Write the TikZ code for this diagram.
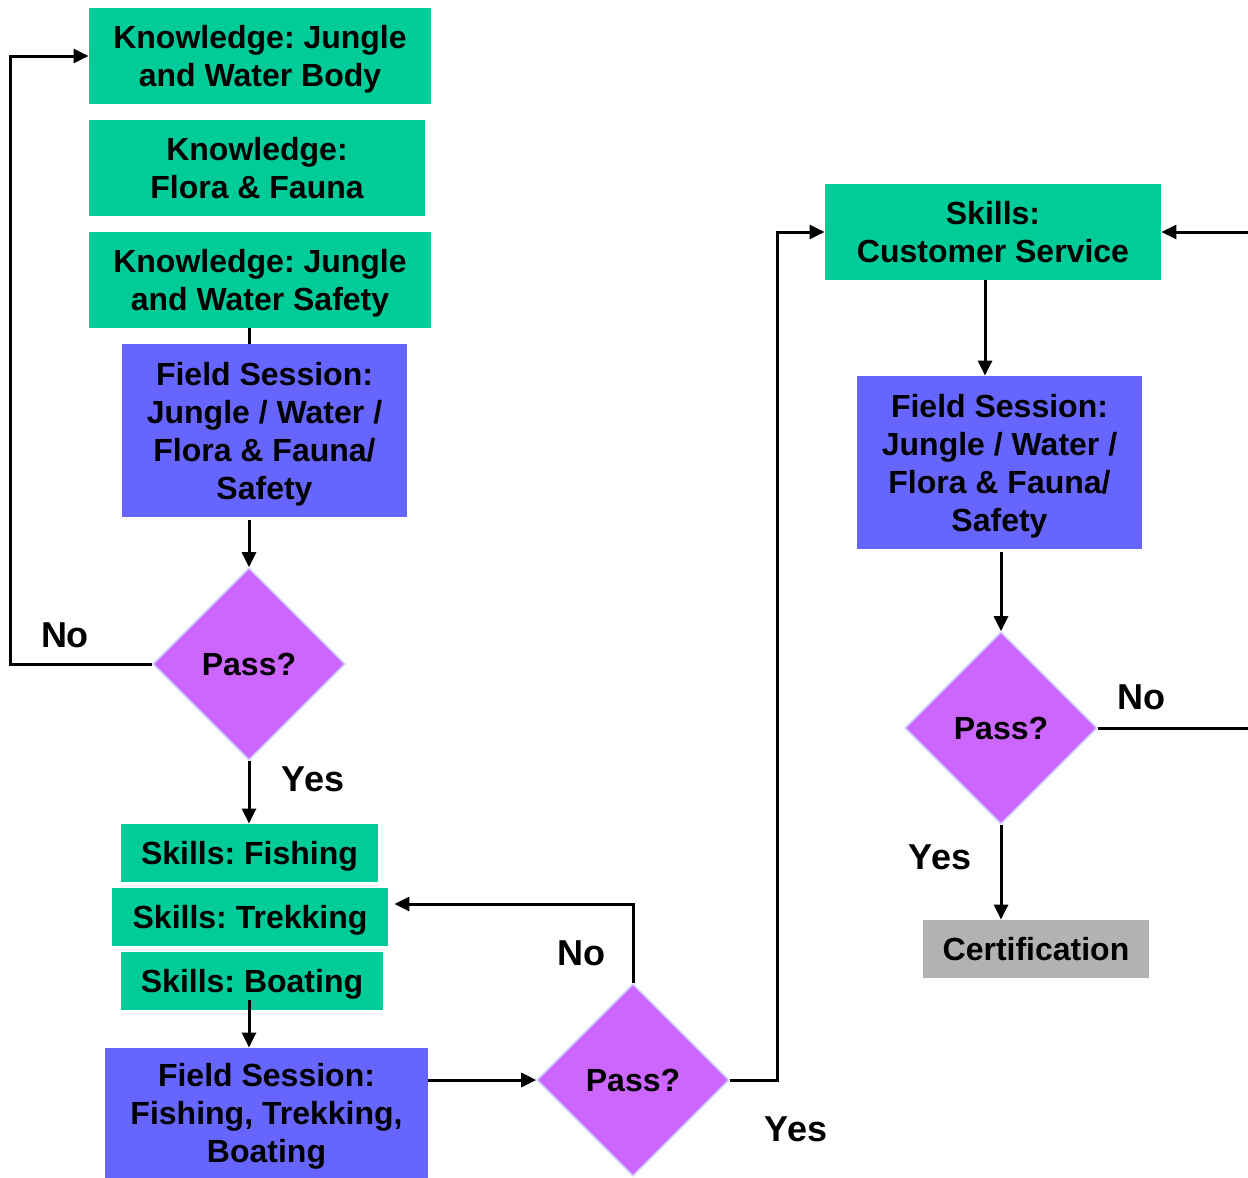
\documentclass[tikz,border=0pt]{standalone}
\usepackage{fontspec}
\setmainfont{Liberation Sans}
\frenchspacing
\usetikzlibrary{shapes.geometric,arrows.meta}

\definecolor{knowgreen}{RGB}{0,204,153}
\definecolor{fieldblue}{RGB}{102,102,255}
\definecolor{passviolet}{RGB}{204,102,255}
\definecolor{passrim}{RGB}{204,204,255}
\definecolor{certgray}{RGB}{178,178,178}

\begin{document}
\begin{tikzpicture}[x=0.5pt, y=-0.5pt,
  box/.style={rectangle, inner sep=0pt, align=center, text depth=0pt, font=\fontsize{16}{19}\selectfont\bfseries},
  greenbox/.style={box, fill=knowgreen},
  bluebox/.style={box, fill=fieldblue},
  passbox/.style={diamond, draw=passrim, line width=0.8pt, fill=passviolet, inner sep=0pt,
    minimum width=96pt, minimum height=96pt, font=\fontsize{16}{19}\selectfont\bfseries},
  answer/.style={font=\fontsize{18}{21}\selectfont\bfseries},
  link/.style={line width=1.5pt},
  arrow/.style={link, -{Triangle[length=7.5pt,width=7pt]}}]

\useasboundingbox (0,0) rectangle (1248,1178);

% knowledge column
\node [greenbox, minimum width=171pt, minimum height=48pt] (know1) at (260,56) {Knowledge: Jungle\\and Water Body};
\node [greenbox, minimum width=168pt, minimum height=48pt] (know2) at (257,168) {Knowledge:\\Flora \& Fauna};
\node [greenbox, minimum width=171pt, minimum height=48pt] (know3) at (260,280) {Knowledge: Jungle\\and Water Safety};
\node [bluebox, minimum width=142.5pt, minimum height=86.5pt] (field1) at (264.5,430.5) {Field Session:\\Jungle / Water /\\Flora \& Fauna/\\Safety};
\node [passbox] (pass1) at (249,664) {Pass?};

% skills column
\node [greenbox, minimum width=128.5pt, minimum height=29pt] (fish) at (249.5,853) {Skills: Fishing};
\node [greenbox, minimum width=138pt, minimum height=29pt] (trek) at (250,917) {Skills: Trekking};
\node [greenbox, minimum width=131pt, minimum height=29pt] (boat) at (252,981) {Skills: Boating};
\node [bluebox, minimum width=161.5pt, minimum height=65pt] (field2) at (266.5,1113) {Field Session:\\Fishing, Trekking,\\Boating};
\node [passbox] (pass2) at (633,1080) {Pass?};

% service column
\node [greenbox, minimum width=168pt, minimum height=48pt] (service) at (993,232) {Skills:\\Customer Service};
\node [bluebox, minimum width=142.5pt, minimum height=86.5pt] (field3) at (999.5,462.5) {Field Session:\\Jungle / Water /\\Flora \& Fauna/\\Safety};
\node [passbox] (pass3) at (1001,728) {Pass?};
\node [box, fill=certgray, minimum width=113pt, minimum height=29pt] (cert) at (1036,949) {Certification};

% answers
\node [answer] (no1) at (65,635) {No};
\node [answer] (yes1) at (313,779) {Yes};
\node [answer] (no2) at (581,953) {No};
\node [answer] (yes2) at (796,1129) {Yes};
\node [answer] (no3) at (1141,697) {No};
\node [answer] (yes3) at (940,857) {Yes};

\coordinate (leftturn) at (10,664);
\coordinate (noturn) at (633,904);
\coordinate (yesturn) at (777,1080);
\coordinate (rightturn) at (1256,728);

% connectors
\draw [link] (pass1 |- know3.south) -- (pass1 |- field1.north);
\draw [arrow] ([yshift=-1.5pt]pass1 |- field1.south) -- (pass1.north);
\draw [arrow] (pass1.west) -- (leftturn) |- (know1.west);
\draw [arrow] (pass1.south) -- (pass1 |- fish.north);
\draw [arrow] ([yshift=5pt]pass1 |- boat.south) -- (pass1 |- field2.north);
\draw [arrow] (field2.east |- pass2) -- (pass2.west);
\draw [arrow, shorten >=3pt] (pass2.north) -- (noturn) -- (noturn -| trek.east);
\draw [arrow] (pass2.east) -- (yesturn) |- (service.west);
\draw [arrow] ([xshift=-4pt]service.south) -- ([xshift=-4pt]service.south |- field3.north);
\draw [arrow] ([yshift=-1.5pt]pass3 |- field3.south) -- (pass3.north);
\draw [arrow] (pass3.east) -- (rightturn) |- (service.east);
\draw [arrow] (pass3.south) -- (pass3.south |- cert.north);

\end{tikzpicture}
\end{document}
